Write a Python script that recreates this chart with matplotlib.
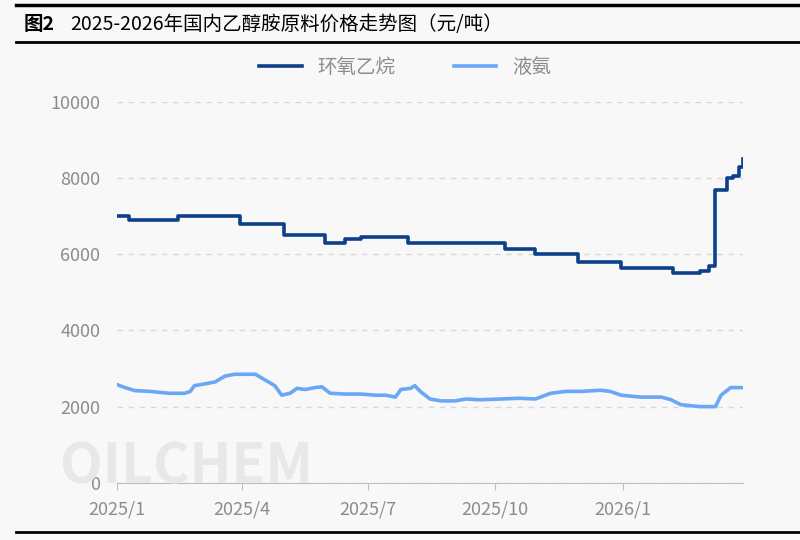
import matplotlib
matplotlib.use("Agg")
import matplotlib.pyplot as plt
import pandas as pd
import numpy as np

plt.rcParams['font.family'] = ['Noto Sans CJK SC', 'DejaVu Sans']

base = pd.Timestamp("2025-01-01")
# 环氧乙烷: step changes (days since 2025-01-01, value)
eo_days = [0, 9, 44, 89, 121, 150, 165, 176, 210, 280, 302, 333, 364, 401, 421, 427, 432, 437, 440, 445, 449, 452]
eo_vals = [7000, 6900, 7000, 6800, 6500, 6300, 6400, 6450, 6300, 6150, 6000, 5800, 5650, 5500, 5550, 5700, 7700, 7700, 8000, 8050, 8300, 8500]
# 液氨
nh_days = [0, 6, 13, 24, 38, 49, 53, 56, 64, 71, 78, 85, 93, 100, 107, 114, 119, 125, 130, 136, 143, 148, 154, 165, 176, 187, 194, 201, 205, 212, 215, 219, 226, 234, 244, 252, 262, 277, 291, 302, 313, 324, 335, 349, 356, 364, 378, 393, 400, 407, 421, 432, 436, 443, 452]
nh_vals = [2580, 2500, 2420, 2400, 2350, 2350, 2400, 2550, 2600, 2650, 2800, 2850, 2850, 2850, 2700, 2550, 2300, 2350, 2480, 2450, 2500, 2520, 2350, 2330, 2330, 2300, 2300, 2250, 2450, 2480, 2550, 2400, 2200, 2150, 2150, 2200, 2180, 2200, 2220, 2200, 2350, 2400, 2400, 2430, 2400, 2300, 2250, 2250, 2180, 2050, 2000, 2000, 2300, 2500, 2500]
xtick_labels = ["2025/1", "2025/4", "2025/7", "2025/10", "2026/1"]
xtick_dates = ["2025-01-01", "2025-04-01", "2025-07-01", "2025-10-01", "2026-01-01"]

eo_x = [base + pd.Timedelta(days=d) for d in eo_days]
nh_x = [base + pd.Timedelta(days=d) for d in nh_days]

bg = '#f8f8f8'
fig = plt.figure(figsize=(8, 5.4), dpi=100, facecolor=bg)
ax = fig.add_axes([0.146, 0.106, 0.783, 0.705], facecolor=bg)

ax.step(eo_x, eo_vals, where='post', color='#0d3f8a', lw=2.6, label='环氧乙烷')
ax.plot(nh_x, nh_vals, color='#6aa7f5', lw=2.6, label='液氨')

ax.set_ylim(0, 10000)
ax.set_yticks(range(0, 10001, 2000))
ax.set_xlim(base, base + pd.Timedelta(days=452))
ax.set_xticks(pd.to_datetime(xtick_dates))
ax.set_xticklabels(xtick_labels)
ax.grid(axis='y', color='#d8d8d8', ls=(0, (4, 4)), lw=1)
for s in ['top', 'right', 'left']:
    ax.spines[s].set_visible(False)
ax.spines['bottom'].set_color('#bfbfbf')
ax.tick_params(axis='y', length=0, labelsize=13, labelcolor='#8c8c8c', pad=12)
ax.tick_params(axis='x', length=5, color='#bfbfbf', labelsize=13, labelcolor='#8c8c8c', pad=8)

ax.legend(loc='center', bbox_to_anchor=(0.46, 1.09), ncol=2, frameon=False,
          fontsize=14, labelcolor='#8c8c8c', handlelength=2.2, columnspacing=3)

fig.text(0.075, 0.105, 'OILCHEM', fontsize=40, color='#e8e8e8', fontweight='bold', zorder=0)

fig.add_artist(plt.Line2D([0.02, 1], [0.99, 0.99], color='black', lw=2.5))
fig.add_artist(plt.Line2D([0.02, 1], [0.922, 0.922], color='black', lw=2))
fig.add_artist(plt.Line2D([0.02, 1], [0.015, 0.015], color='black', lw=2))
fig.text(0.03, 0.955, '图2', fontsize=14, fontweight='bold', va='center')
fig.text(0.088, 0.955, '2025-2026年国内乙醇胺原料价格走势图（元/吨）', fontsize=14, va='center')

fig.savefig('out.png', dpi=100, facecolor=bg)
